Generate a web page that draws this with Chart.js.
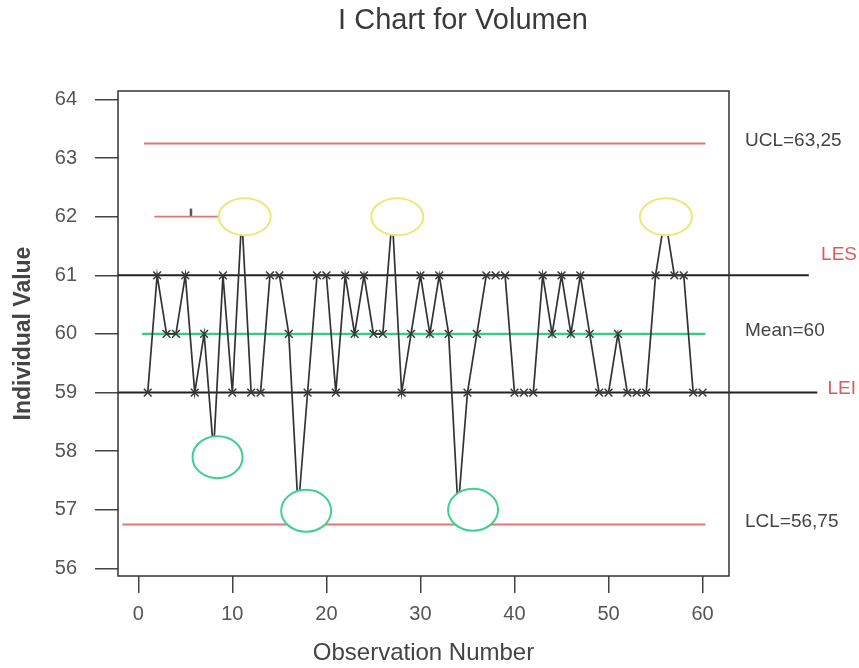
<!DOCTYPE html>
<html>
<head>
<meta charset="utf-8">
<title>I Chart for Volumen</title>
<script src="https://cdn.jsdelivr.net/npm/chart.js@4.4.1/dist/chart.umd.min.js"></script>
<style>
    html, body { margin: 0; padding: 0; background: #fff; }
    #wrap { width: 859px; height: 668px; }
</style>
</head>
<body>
<div id="wrap"><canvas id="iChart" width="859" height="668"></canvas></div>
<script>
// I chart data
const observations = [
    1, 2, 3, 4, 5, 6, 7, 8, 9, 10,
    11, 12, 13, 14, 15, 16, 17, 18, 19, 20,
    21, 22, 23, 24, 25, 26, 27, 28, 29, 30,
    31, 32, 33, 34, 35, 36, 37, 38, 39, 40,
    41, 42, 43, 44, 45, 46, 47, 48, 49, 50,
    51, 52, 53, 54, 55, 56, 57, 58, 59, 60
];
const volumen = [
    59, 61, 60, 60, 61, 59, 60, 58, 61, 59,
    62, 59, 59, 61, 61, 60, 57, 59, 61, 61,
    59, 61, 60, 61, 60, 60, 62, 59, 60, 61,
    60, 61, 60, 57, 59, 60, 61, 61, 61, 59,
    59, 59, 61, 60, 61, 60, 61, 60, 59, 59,
    60, 59, 59, 59, 61, 62, 61, 61, 59, 59
];
const xTicks = [0, 10, 20, 30, 40, 50, 60];
const yTicks = [56, 57, 58, 59, 60, 61, 62, 63, 64];

const chartTitle = 'I Chart for Volumen';
const limitNames = ['UCL=63,25', 'Mean=60', 'LCL=56,75'];
const limitValues = [63.25, 60, 56.75];
const specNames = ['LES', 'LEI'];
const specValues = [61, 59];

// observations ringed by hand on the original
const circledHigh = [11, 27, 56];
const circledLow = [8, 17, 34];

// the short red stroke at 62 near the start
const noteValue = 62;

const FONT = '"Liberation Sans", Arial, sans-serif';
Chart.defaults.font.family = FONT;

const RED = '#e07676';
const GREEN = '#35cc88';
const DARK = '#333333';

const valueOf = obs => volumen[observations.indexOf(obs)];

function hline(value, x0, x1, color, width, clip) {
    return {
        data: [{ x: x0, y: value }, { x: x1, y: value }],
        borderColor: color,
        borderWidth: width,
        pointRadius: 0,
        clip: clip,
    };
}

// title, frame, hand-drawn rings and the right-hand labels
const framePlugin = {
    id: 'frame',
    afterDatasetsDraw(chart, args, opts) {
        const { ctx, scales: { x, y } } = chart;
        const ring = (obs, dx, dy, rx, ry, color) => {
            const cx = x.getPixelForValue(obs) + dx;
            const cy = y.getPixelForValue(valueOf(obs)) + dy;
            ctx.beginPath();
            ctx.ellipse(cx, cy, rx, ry, 0, 0, Math.PI * 2);
            ctx.fillStyle = '#fff';
            ctx.fill();
            ctx.lineWidth = 2;
            ctx.strokeStyle = color;
            ctx.stroke();
        };
        ctx.save();
        circledHigh.forEach((o, i) => ring(o, opts.highDx[i], 0, 26, 18.5, '#e9e97c'));
        circledLow.forEach((o, i) => ring(o, opts.lowDx[i], opts.lowDy[i], 25, 21, '#3dd08f'));
        ctx.restore();
    },
    afterDraw(chart) {
        const { ctx, chartArea: a, scales: { y } } = chart;
        ctx.save();
        ctx.strokeStyle = DARK;
        ctx.lineWidth = 1.5;
        ctx.strokeRect(a.left, a.top, a.width, a.height);

        ctx.textBaseline = 'middle';
        ctx.textAlign = 'center';
        ctx.fillStyle = '#3a3a3a';
        ctx.font = '29px ' + FONT;
        ctx.fillText(chartTitle, 463, 21);

        ctx.font = '19px ' + FONT;
        ctx.fillStyle = '#444';
        ctx.textAlign = 'left';
        limitNames.forEach((t, i) => {
            ctx.fillText(t, a.right + 16, y.getPixelForValue(limitValues[i]) - 3);
        });

        ctx.fillStyle = '#dd5a5a';
        ctx.textAlign = 'right';
        ctx.fillText(specNames[0], 857, y.getPixelForValue(specValues[0]) - 21);
        ctx.fillText(specNames[1], 856, y.getPixelForValue(specValues[1]) - 4);
        ctx.restore();
    }
};

new Chart(document.getElementById('iChart'), {
    type: 'line',
    data: {
        datasets: [
            {
                data: observations.map((o, i) => ({ x: o, y: volumen[i] })),
                borderColor: DARK,
                borderWidth: 1.7,
                pointStyle: 'crossRot',
                pointRadius: 5.5,
                pointBorderWidth: 1.5,
                pointBorderColor: '#3a3a3a',
                tension: 0,
            },
            hline(specValues[0], -2.16, 71.3, '#222', 2, false),
            hline(specValues[1], -2.16, 72.2, '#222', 2, false),
            hline(limitValues[1], 0.4, 60.3, GREEN, 2.2, 0),
            hline(limitValues[0], 0.6, 60.3, RED, 2, 0),
            hline(limitValues[2], -1.7, 60.3, RED, 2, 0),
            hline(noteValue, 1.7, 9.0, RED, 1.8, 0),
            {
                data: [{ x: 5.6, y: noteValue + 0.07 }],
                pointStyle: 'line',
                rotation: 90,
                pointRadius: 4,
                pointBorderWidth: 2.5,
                pointBorderColor: '#555',
                showLine: false,
            },
        ]
    },
    options: {
        responsive: false,
        animation: false,
        devicePixelRatio: 1,
        layout: { padding: { left: 0, right: 130, top: 91, bottom: 0 } },
        plugins: {
            legend: { display: false },
            tooltip: { enabled: false },
            title: { display: false },
            frame: {
                highDx: [3, 5, 1],
                lowDx: [4, 8, 15],
                lowDy: [6, 1, 0],
            },
        },
        scales: {
            x: {
                type: 'linear',
                min: -2.16,
                max: 62.81,
                afterBuildTicks: s => { s.ticks = xTicks.map(v => ({ value: v })); },
                afterFit: s => { s.height = 92; },
                border: { display: false },
                grid: {
                    drawOnChartArea: false,
                    drawTicks: true,
                    tickLength: 17,
                    color: '#444',
                    lineWidth: 1.5,
                },
                ticks: { color: '#555', font: { size: 20 }, padding: 9, maxRotation: 0 },
                title: {
                    display: true,
                    text: 'Observation Number',
                    color: '#444',
                    font: { size: 24 },
                    padding: { top: 0, bottom: 0 },
                },
            },
            y: {
                min: 55.87,
                max: 64.145,
                afterBuildTicks: s => { s.ticks = yTicks.map(v => ({ value: v })); },
                afterFit: s => { s.width = 118; },
                border: { display: false },
                grid: {
                    drawOnChartArea: false,
                    drawTicks: true,
                    tickLength: 23,
                    color: '#444',
                    lineWidth: 1.5,
                },
                ticks: { color: '#555', font: { size: 20 }, padding: 18 },
                title: {
                    display: true,
                    text: 'Individual Value',
                    color: '#444',
                    font: { size: 23, weight: 'bold' },
                    padding: { top: 10, bottom: 0 },
                },
            },
        },
    },
    plugins: [framePlugin]
});
</script>
</body>
</html>
